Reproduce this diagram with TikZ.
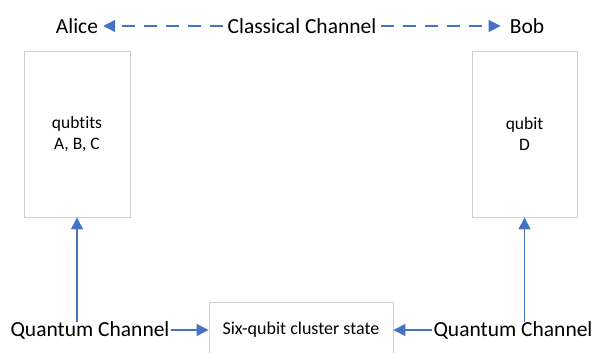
\documentclass[tikz,border=0pt]{standalone}
\usepackage{fontspec}
\setmainfont[Ligatures=NoCommon]{Carlito}
\usetikzlibrary{arrows.meta}
\definecolor{linkblue}{RGB}{68,114,196}
\definecolor{boxgray}{RGB}{208,208,208}
\begin{document}
\begin{tikzpicture}[x=1pt,y=-1pt,
  bigtext/.style={inner sep=1pt, font=\fontsize{21.5}{24}\selectfont},
  party/.style={draw=boxgray, line width=0.9pt, align=center,
    font=\fontsize{17.5}{21}\selectfont},
  link/.style={draw=linkblue, line width=1.4pt,
    -{Triangle[length=12pt,width=12pt]}},
  classical/.style={link, dash pattern=on 13pt off 9pt}]
\useasboundingbox (0,0) rectangle (595,353);
% top row: parties and classical channel
\node[bigtext] (alice) at (77,26) {Alice};
\node[bigtext] (bob) at (527,26) {Bob};
\node[bigtext, inner sep=4pt] (cc) at (302,26) {Classical Channel};
\draw[classical] (cc.west) -- ([xshift=4pt]alice.east);
\draw[classical] (cc.east) -- ([xshift=-8pt]bob.west);
% qubit holders
\node[party, minimum width=106pt, minimum height=166pt] (ha) at (77,134)
  {qubtits\\A, B, C};
\node[party, minimum width=105pt, minimum height=166pt] (hd) at (524.5,134)
  {qubit\\D};
% resource state and quantum channels
\node[draw=boxgray, line width=0.9pt, minimum width=184pt, minimum height=56pt,
  font=\fontsize{18}{21}\selectfont] (cs) at (301,330) {Six-qubit cluster state};
\node[bigtext] (qa) at (90,330) {Quantum Channel};
\node[bigtext] (qd) at (513,330) {Quantum Channel};
\draw[link] (qa.east) -- (qa.east -| cs.west);
\draw[link] (qd.west) -- (qd.west -| cs.east);
\coordinate (qatop) at ([yshift=-2pt]qa.north -| ha.south);
\coordinate (qdtop) at ([yshift=-2pt]qd.north -| hd.south);
\draw[link] (qatop) -- (ha.south);
\draw[link] (qdtop) -- (hd.south);
\end{tikzpicture}
\end{document}
